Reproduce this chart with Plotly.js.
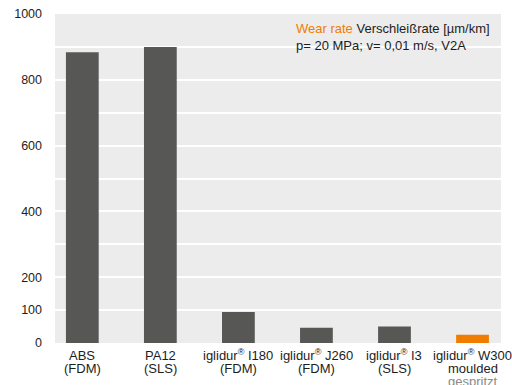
<!DOCTYPE html>
<html>
<head>
<meta charset="utf-8">
<script src="https://cdn.plot.ly/plotly-3.0.1.min.js"></script>
<style>html,body{margin:0;padding:0;background:#fff;}#chart{width:512px;height:385px;}</style>
</head>
<body>
<div id="chart"></div>
<script>
var categories = ["ABS (FDM)", "PA12 (SLS)", "iglidur I180 (FDM)", "iglidur J260 (FDM)", "iglidur I3 (SLS)", "iglidur W300 moulded"];
var labelLine1 = ["ABS", "PA12", "iglidur<sup>®</sup> I180", "iglidur<sup>®</sup> J260", "iglidur<sup>®</sup> I3", "iglidur<sup>®</sup> W300"];
var labelLine2 = ["(FDM)", "(SLS)", "(FDM)", "(FDM)", "(SLS)", "moulded"];
var labelLine3 = ["", "", "", "", "", "gespritzt"];
var wearRate = [884, 900, 94, 46, 50, 25];
var barColors = ["#575756", "#575756", "#575756", "#575756", "#575756", "#f07d00"];
var yTickVals = [0, 100, 200, 300, 400, 500, 600, 700, 800, 900, 1000];
var yTickText = ["0", "100", "200", "", "400", "", "600", "", "800", "", "1000"];

var FONT = "Liberation Sans, Arial, Helvetica, sans-serif";
var TXT = "#1d1d1b";

var annotations = [];
function addLine(arr, yshift, color) {
  arr.forEach(function (t, i) {
    if (!t) return;
    annotations.push({
      x: categories[i], xref: "x", y: 0, yref: "paper",
      yanchor: "middle", xanchor: "center", yshift: yshift,
      text: t, showarrow: false,
      font: {family: FONT, size: 13, color: color}
    });
  });
}
addLine(labelLine1, -12, TXT);
addLine(labelLine2, -25, TXT);
addLine(labelLine3, -38, "#8a8a8a");

annotations.push({
  x: 0.535, xref: "paper", y: 1, yref: "paper", yshift: -5,
  xanchor: "left", yanchor: "top", align: "left", showarrow: false,
  text: "<span style='color:#f07d00'>Wear rate</span> Verschleißrate [µm/km]<br>p= 20 MPa; v= 0,01 m/s, V2A",
  font: {family: FONT, size: 13, color: TXT}
});
annotations.push({
  x: 0.055, xref: "paper", y: 0, yref: "paper", yshift: -47,
  xanchor: "left", yanchor: "middle", showarrow: false,
  text: "Comparison with standard materials",
  font: {family: FONT, size: 13, color: "#9d9d9c"}
});

var data = [{
  type: "bar",
  x: categories,
  y: wearRate,
  marker: {color: barColors},
  width: 0.42,
  hoverinfo: "skip"
}];

var layout = {
  width: 512, height: 385,
  margin: {l: 55, r: 11, t: 14, b: 42},
  paper_bgcolor: "#ffffff",
  plot_bgcolor: "#ececec",
  showlegend: false,
  font: {family: FONT, size: 13, color: TXT},
  xaxis: {
    type: "category",
    range: [-0.35, 5.365],
    showticklabels: false,
    showgrid: false, zeroline: false, showline: false, ticks: ""
  },
  yaxis: {
    range: [0, 1000],
    tickvals: yTickVals, ticktext: yTickText,
    showgrid: true, gridcolor: "#ffffff", gridwidth: 2,
    zeroline: false, showline: false, ticks: "",
    ticklabelstandoff: 12,
    tickfont: {family: FONT, size: 12.5, color: TXT}
  },
  annotations: annotations
};

Plotly.newPlot("chart", data, layout, {displayModeBar: false, staticPlot: true});
</script>
</body>
</html>
